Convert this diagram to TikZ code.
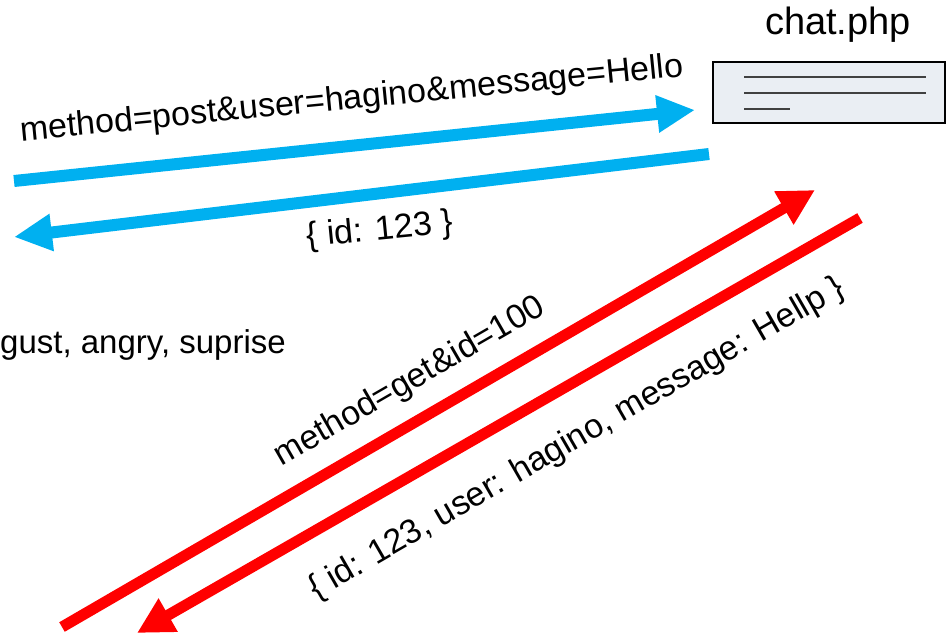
\documentclass[tikz,border=0pt]{standalone}
\usepackage{fontspec}
\setmainfont{Liberation Sans}
\usetikzlibrary{arrows.meta}
\definecolor{reqblue}{HTML}{00B0F0}
\definecolor{pagefill}{HTML}{EAEEF3}
\begin{document}
\begin{tikzpicture}
[x=1pt,y=-1pt,
 bluearr/.style={draw=reqblue,line width=12pt,-{Triangle[length=38pt,width=35pt]}},
 redarr/.style={draw=red,line width=11pt,-{Triangle[length=36pt,width=36pt]}},
 lbl/.style={inner sep=0pt,font=\fontsize{34}{39}\selectfont}]
\useasboundingbox (0,0) rectangle (946,634);

\node[draw,line width=2pt,fill=pagefill,minimum width=232pt,minimum height=61pt,inner sep=0pt] (page) at (829,92.5) {};
\node[lbl,font=\fontsize{38}{43}\selectfont] (name) at (838,25) {chat.php};
\draw[line width=2pt,black!75] (744,77) -- (926,77);
\draw[line width=2pt,black!75] (744,93) -- (926,93);
\draw[line width=2pt,black!75] (744,109) -- (790,109);

% post
\coordinate (p0) at (14,181);
\coordinate (p1) at (695,110);
\coordinate (q0) at (709,154);
\coordinate (q1) at (14,237);
\draw[bluearr] (p0) -- (p1);
\draw[bluearr] (q0) -- (q1);
\node[lbl,rotate=5.6] (postmsg) at (352,100) {method=post\&user=hagino\&message=Hello};
\node[lbl,rotate=5.6] (postres) at (380,231) {\{ id: 123 \}};

\node[lbl,anchor=west,font=\fontsize{33}{38}\selectfont] (emo) at (0,345) {gust, angry, suprise};

% get
\coordinate (g0) at (62,627);
\coordinate (g1) at (815,190);
\coordinate (h0) at (860,218);
\coordinate (h1) at (137,633);
\draw[redarr] (g0) -- (g1);
\draw[redarr] (h0) -- (h1);
\node[lbl,rotate=30] (getmsg) at (410,382) {method=get\&id=100};
\node[lbl,rotate=30] (getres) at (577,439) {\{ id: 123, user: hagino, message: Hellp \}};
\end{tikzpicture}
\end{document}
